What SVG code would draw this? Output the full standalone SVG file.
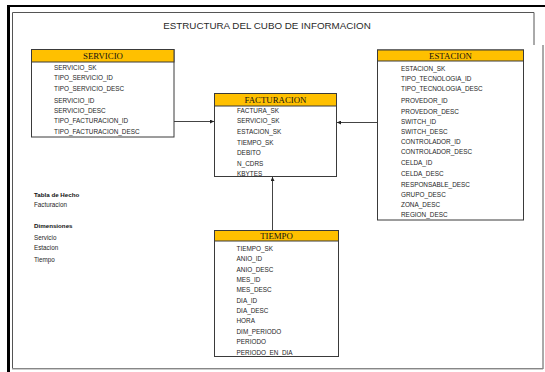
<svg xmlns="http://www.w3.org/2000/svg" width="545" height="372" viewBox="0 0 545 372">
<defs>
<style>
.hdr{fill:#FFC000;stroke:#3a3a3a;stroke-width:1}
.body{fill:#fff;stroke:#3a3a3a;stroke-width:1}
.ht{font-family:"Liberation Serif",serif;font-size:8.8px;fill:#111;text-anchor:middle}
.f{font-family:"Liberation Sans",Arial,sans-serif;font-size:6.4px;fill:#1e1e1e}
.lg{font-family:"Liberation Sans",Arial,sans-serif;font-size:6.3px;fill:#1e1e1e}
.lgb{font-family:"Liberation Sans",Arial,sans-serif;font-size:6.2px;font-weight:bold;fill:#111}
.title{font-family:"Liberation Sans",Arial,sans-serif;font-size:9.8px;fill:#2a2a2a;text-anchor:middle}
.conn{stroke:#444;stroke-width:1;fill:none}
</style>
<marker id="arr" viewBox="0 0 4 4" refX="4" refY="2" markerWidth="4" markerHeight="4" markerUnits="userSpaceOnUse" orient="auto">
<path d="M0,0 L4,2 L0,4 z" fill="#222"/>
</marker>
</defs>
<rect width="545" height="372" fill="#fff"/>
<g id="frame">
<line x1="8.5" y1="5" x2="8.5" y2="372" stroke="#000" stroke-width="3"/>
<line x1="7" y1="6" x2="545" y2="6" stroke="#000" stroke-width="2.2"/>
<path d="M12.5,368.5 V12.5 H534 V45 M543,45 V369 M12.5,368.5 H543" fill="none" stroke="#555" stroke-width="1"/>
<line x1="12" y1="368.8" x2="543" y2="368.8" stroke="#999" stroke-width="1.2"/>
</g>
<text class="title" x="267" y="28.5">ESTRUCTURA DEL CUBO DE INFORMACION</text>
<g id="connectors">
<line class="conn" x1="174" y1="121.5" x2="214" y2="121.5" marker-end="url(#arr)"/>
<line class="conn" x1="377.5" y1="122.5" x2="337" y2="122.5" marker-end="url(#arr)"/>
<line class="conn" x1="272.5" y1="230.5" x2="272.5" y2="177" marker-end="url(#arr)"/>
</g>
<g id="servicio">
<rect class="body" x="31.5" y="49.5" width="142.5" height="87.5"/>
<rect class="hdr" x="31.5" y="49.5" width="142.5" height="12.5"/>
<text class="ht" x="103" y="58.7">SERVICIO</text>
<text class="f" x="54" y="70.3">SERVICIO_SK</text>
<text class="f" x="54" y="80.3">TIPO_SERVICIO_ID</text>
<text class="f" x="54" y="91">TIPO_SERVICIO_DESC</text>
<text class="f" x="54" y="103">SERVICIO_ID</text>
<text class="f" x="54" y="113.3">SERVICIO_DESC</text>
<text class="f" x="54" y="123.3">TIPO_FACTURACION_ID</text>
<text class="f" x="54" y="133.6">TIPO_FACTURACION_DESC</text>
</g>
<g id="facturacion">
<rect class="body" x="214.5" y="93.5" width="122" height="83"/>
<rect class="hdr" x="214.5" y="93.5" width="122" height="12.5"/>
<text class="ht" x="275.5" y="102.7">FACTURACION</text>
<text class="f" x="237" y="113">FACTURA_SK</text>
<text class="f" x="237" y="123.3">SERVICIO_SK</text>
<text class="f" x="237" y="134">ESTACION_SK</text>
<text class="f" x="237" y="144.6">TIEMPO_SK</text>
<text class="f" x="237" y="155">DEBITO</text>
<text class="f" x="237" y="165.6">N_CDRS</text>
<text class="f" x="237" y="176">KBYTES</text>
</g>
<g id="estacion">
<rect class="body" x="377.5" y="50" width="146" height="170"/>
<rect class="hdr" x="377.5" y="50" width="146" height="11"/>
<text class="ht" x="450.5" y="58.7">ESTACION</text>
<text class="f" x="401" y="71">ESTACION_SK</text>
<text class="f" x="401" y="81">TIPO_TECNOLOGIA_ID</text>
<text class="f" x="401" y="91.3">TIPO_TECNOLOGIA_DESC</text>
<text class="f" x="401" y="103.3">PROVEDOR_ID</text>
<text class="f" x="401" y="114">PROVEDOR_DESC</text>
<text class="f" x="401" y="123.6">SWITCH_ID</text>
<text class="f" x="401" y="134">SWITCH_DESC</text>
<text class="f" x="401" y="144">CONTROLADOR_ID</text>
<text class="f" x="401" y="154.3">CONTROLADOR_DESC</text>
<text class="f" x="401" y="165.3">CELDA_ID</text>
<text class="f" x="401" y="175.6">CELDA_DESC</text>
<text class="f" x="401" y="186.6">RESPONSABLE_DESC</text>
<text class="f" x="401" y="197">GRUPO_DESC</text>
<text class="f" x="401" y="206.6">ZONA_DESC</text>
<text class="f" x="401" y="217">REGION_DESC</text>
</g>
<g id="tiempo">
<rect class="body" x="214.5" y="230.5" width="124" height="126"/>
<rect class="hdr" x="214.5" y="230.5" width="124" height="10.5"/>
<text class="ht" x="276.5" y="238.9">TIEMPO</text>
<text class="f" x="236.5" y="250.6">TIEMPO_SK</text>
<text class="f" x="236.5" y="261">ANIO_ID</text>
<text class="f" x="236.5" y="271.6">ANIO_DESC</text>
<text class="f" x="236.5" y="282">MES_ID</text>
<text class="f" x="236.5" y="292.3">MES_DESC</text>
<text class="f" x="236.5" y="303">DIA_ID</text>
<text class="f" x="236.5" y="313">DIA_DESC</text>
<text class="f" x="236.5" y="323.3">HORA</text>
<text class="f" x="236.5" y="333.6">DIM_PERIODO</text>
<text class="f" x="236.5" y="344">PERIODO</text>
<text class="f" x="236.5" y="355">PERIODO_EN_DIA</text>
</g>
<g id="legend">
<text class="lgb" x="34" y="197.3">Tabla de Hecho</text>
<text class="lg" x="34" y="207">Facturacion</text>
<text class="lgb" x="34" y="228">Dimensiones</text>
<text class="lg" x="34" y="239.6">Servicio</text>
<text class="lg" x="34" y="250">Estacion</text>
<text class="lg" x="34" y="261.6">Tiempo</text>
</g>
</svg>
